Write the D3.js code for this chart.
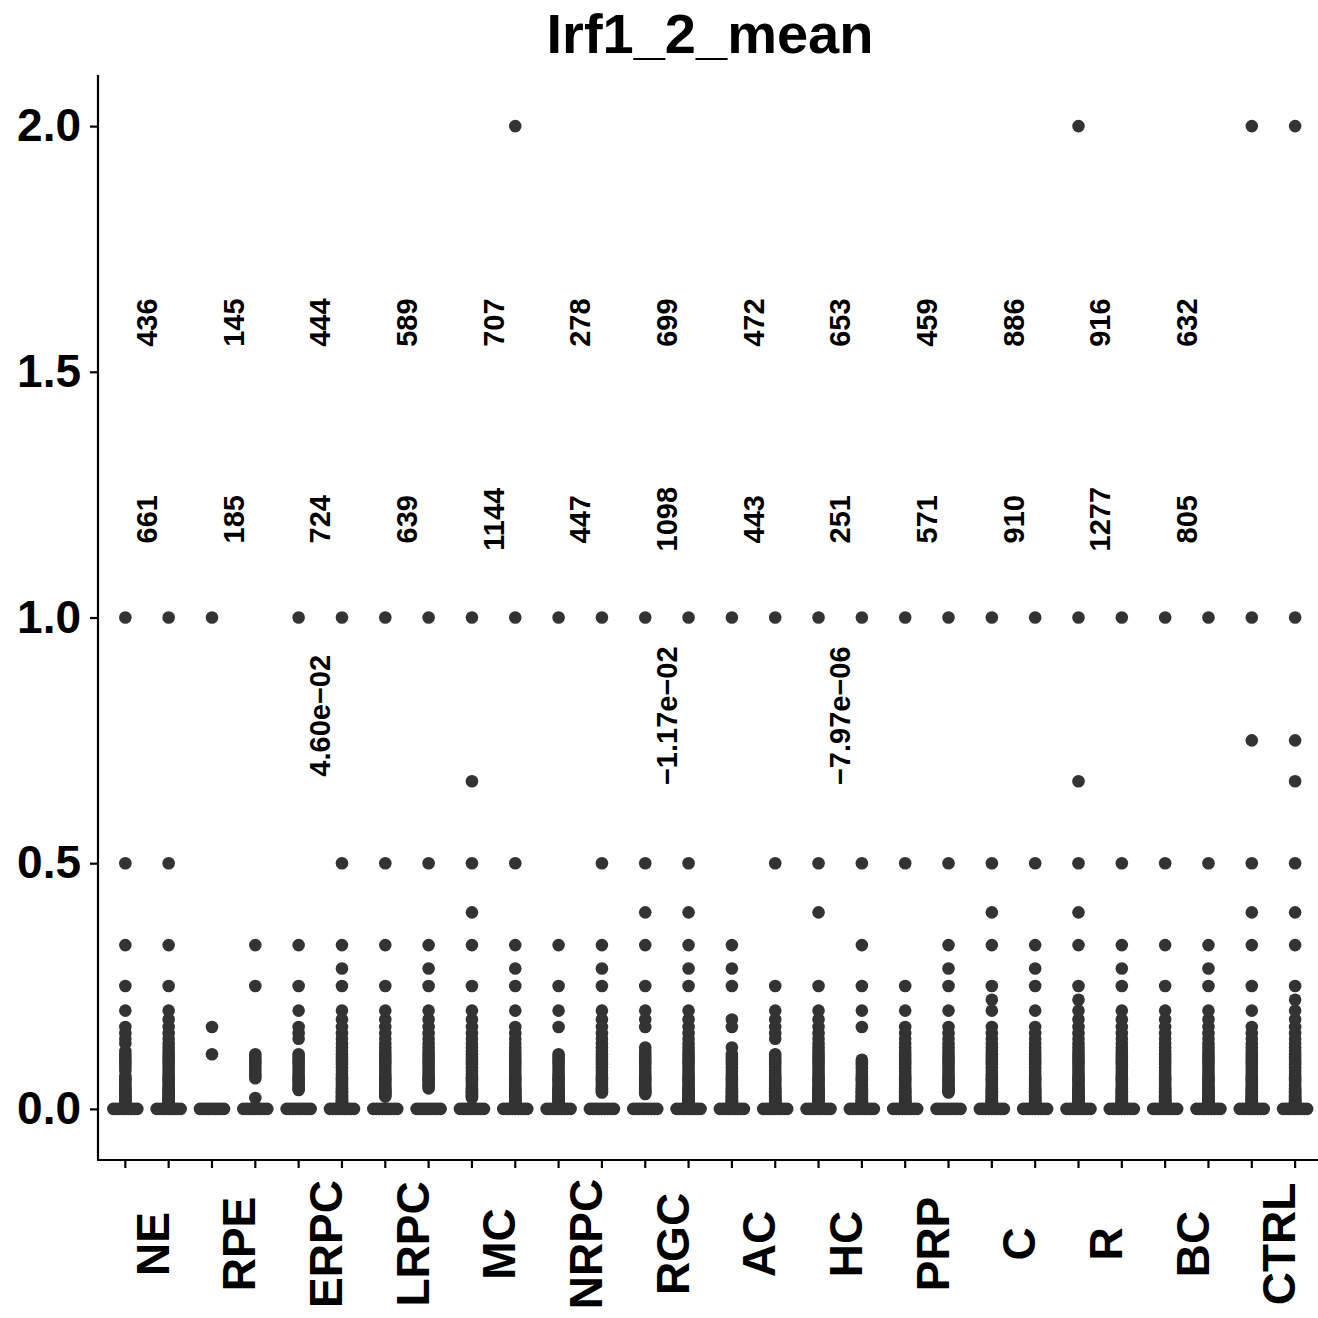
<!DOCTYPE html>
<html>
<head>
<meta charset="utf-8">
<script src="https://cdn.jsdelivr.net/npm/d3@7"></script>
<style>
  html, body { margin: 0; padding: 0; background: #fff; }
  svg text { font-family: "Liberation Sans", Arial, Helvetica, sans-serif; font-weight: bold; fill: #000; }
</style>
</head>
<body>
<svg id="chart" width="1318" height="1318"></svg>
<script>
// ---------------- DATA ----------------
const title = "Irf1_2_mean";
const categories = ["NE", "RPE", "ERPC", "LRPC", "MC", "NRPC", "RGC", "AC", "HC", "PRP", "C", "R", "BC", "CTRL"];
const yTicks = [0.0, 0.5, 1.0, 1.5, 2.0];

// cell counts printed above each category (two rows)
const countsRow1 = [436, 145, 444, 589, 707, 278, 699, 472, 653, 459, 886, 916, 632, null];
const countsRow2 = [661, 185, 724, 639, 1144, 447, 1098, 443, 251, 571, 910, 1277, 805, null];
const countsRow1Y = 1.6;
const countsRow2Y = 1.2;

// statistics printed for some categories
const statCategories = ["ERPC", "RGC", "HC"];
const statLabels = ["4.60e\u221202", "\u22121.17e\u221202", "\u22127.97e\u221206"];
const statY = 0.8;

// observed small mean levels that make up the dense stacks
const levels = [0.2, 0.1818, 0.1667, 0.1538, 0.1429, 0.1333, 0.125, 0.1176, 0.1111, 0.1053, 0.1,
  0.0952, 0.0909, 0.0833, 0.0769, 0.0714, 0.0667, 0.0625, 0.0588, 0.0556, 0.05, 0.0455, 0.0417,
  0.0385, 0.0357, 0.0333, 0.0303, 0.0278, 0.025, 0.0222, 0.02, 0.0179, 0.0159, 0.0139, 0.0119,
  0.01, 0.0083, 0.0067, 0.005, 0];

// isolated points per column (category x subgroup, 2 columns per category)
const isolatedValues = [
  [1, 0.5, 0.3333, 0.25, 0.2],                          // NE a
  [1, 0.5, 0.3333, 0.25],                               // NE b
  [1, 0.1667, 0.1111],                                  // RPE a
  [0.3333, 0.25, 0.0222],                               // RPE b
  [1, 0.3333, 0.25, 0.2],                               // ERPC a
  [1, 0.5, 0.3333, 0.2857, 0.25],                       // ERPC b
  [1, 0.5, 0.3333, 0.25],                               // LRPC a
  [1, 0.5, 0.3333, 0.2857, 0.25],                       // LRPC b
  [1, 0.6667, 0.5, 0.4, 0.3333, 0.25],                  // MC a
  [2, 1, 0.5, 0.3333, 0.2857, 0.25, 0.2],               // MC b
  [1, 0.3333, 0.25, 0.2, 0.1667],                       // NRPC a
  [1, 0.5, 0.3333, 0.2857, 0.25],                       // NRPC b
  [1, 0.5, 0.4, 0.3333, 0.25],                          // RGC a
  [1, 0.5, 0.4, 0.3333, 0.2857, 0.25],                  // RGC b
  [1, 0.3333, 0.2857, 0.25, 0.1818, 0.1667, 0.125],     // AC a
  [1, 0.5, 0.25],                                       // AC b
  [1, 0.5, 0.4, 0.25],                                  // HC a
  [1, 0.5, 0.3333, 0.25, 0.2, 0.1667],                  // HC b
  [1, 0.5, 0.25, 0.2],                                  // PRP a
  [1, 0.5, 0.3333, 0.2857, 0.25, 0.2],                  // PRP b
  [1, 0.5, 0.4, 0.3333, 0.25, 0.2222, 0.2],             // C a
  [1, 0.5, 0.3333, 0.2857, 0.25, 0.2],                  // C b
  [2, 1, 0.6667, 0.5, 0.4, 0.3333, 0.25, 0.2222],       // R a
  [1, 0.5, 0.3333, 0.2857, 0.25],                       // R b
  [1, 0.5, 0.3333, 0.25],                               // BC a
  [1, 0.5, 0.3333, 0.2857, 0.25],                       // BC b
  [2, 1, 0.75, 0.5, 0.4, 0.3333, 0.25, 0.2],            // CTRL a
  [2, 1, 0.75, 0.6667, 0.5, 0.4, 0.3333, 0.25, 0.2222]  // CTRL b
];

// dense stacks per column: [highest, lowest] observed level of each continuous run
const stackRanges = [
  [[0.1667, 0.1333], [0.1176, 0.0769], [0.0667, 0.0119]],
  [[0.2, 0.005]],
  [],
  [[0.1111, 0.0625]],
  [[0.1667, 0.1429], [0.1111, 0.0385]],
  [[0.2, 0.005]],
  [[0.2, 0.025]],
  [[0.2, 0.04]],
  [[0.2, 0.0222]],
  [[0.1667, 0.005]],
  [[0.1111, 0.005]],
  [[0.2, 0.0333]],
  [[0.2, 0.1667], [0.125, 0.0303]],
  [[0.2, 0.005]],
  [[0.1111, 0.005]],
  [[0.2, 0.1429], [0.1111, 0.005]],
  [[0.2, 0.005]],
  [[0.1, 0.005]],
  [[0.1667, 0.005]],
  [[0.1667, 0.0333]],
  [[0.1667, 0.005]],
  [[0.1667, 0.005]],
  [[0.2, 0.005]],
  [[0.2, 0.005]],
  [[0.2, 0.005]],
  [[0.2, 0.005]],
  [[0.1667, 0.005]],
  [[0.2, 0.005]]
];
// every column has many cells at exactly zero
const zeroValue = 0;

// ---------------- CHART ----------------
const svg = d3.select("#chart");
const mLeft = 98, mRight = 1318, mTop = 75, mBottom = 1160;

const x = d3.scaleLinear().domain([0.4345, 14.514]).range([mLeft, mRight]);
const y = d3.scaleLinear().domain([-0.104, 2.104]).range([mBottom, mTop]);
const subOffset = 0.25;
const colX = (ci) => x(Math.floor(ci / 2) + 1 + (ci % 2 === 0 ? -subOffset : subOffset));

// title
svg.append("text").attr("x", 710).attr("y", 53)
  .attr("text-anchor", "middle").attr("font-size", 56).text(title);

// build points
const points = [];
isolatedValues.forEach((vals, ci) => {
  vals.forEach(v => points.push({ci, v, dx: 0}));
  stackRanges[ci].forEach(([hi, lo]) => {
    levels.filter(l => l <= hi + 1e-6 && l >= lo - 1e-6 && l > 0).forEach(l => points.push({ci, v: l, dx: 0}));
  });
  // zero band: many overlapping cells spread horizontally
  d3.range(-12, 12.01, 3).forEach(off => points.push({ci, v: zeroValue, dx: off}));
});

svg.append("g").selectAll("circle").data(points).join("circle")
  .attr("cx", d => colX(d.ci) + d.dx)
  .attr("cy", d => y(d.v))
  .attr("r", 6.3)
  .attr("fill", "#333333");

// axes
const yAxis = d3.axisLeft(y).tickValues(yTicks).tickFormat(d3.format(".1f")).tickSize(8).tickPadding(9);
const gy = svg.append("g").attr("transform", `translate(${mLeft},0)`).call(yAxis);
gy.select(".domain").attr("d", `M0,${mTop}V${mBottom}`).attr("stroke", "#000").attr("stroke-width", 2.2);
gy.selectAll(".tick line").attr("stroke", "#000").attr("stroke-width", 2.2);
gy.selectAll(".tick text").attr("font-size", 46).attr("font-family", "Liberation Sans, Arial, sans-serif")
  .attr("font-weight", "bold").attr("fill", "#000");

const colTicks = d3.range(28).map(ci => colX(ci));
const gx = svg.append("g");
gx.append("line").attr("x1", mLeft - 1).attr("x2", mRight).attr("y1", mBottom).attr("y2", mBottom)
  .attr("stroke", "#000").attr("stroke-width", 2.2);
gx.selectAll("line.tk").data(colTicks).join("line").attr("class", "tk")
  .attr("x1", d => d).attr("x2", d => d).attr("y1", mBottom).attr("y2", mBottom + 8)
  .attr("stroke", "#000").attr("stroke-width", 2.2);

// category labels
svg.append("g").selectAll("text").data(categories).join("text")
  .attr("transform", (d, i) => `translate(${x(i + 1) + 21.7},1244) rotate(-90)`)
  .attr("text-anchor", "middle")
  .attr("font-size", 46)
  .text(d => d);

// counts
function drawRow(arr, yv) {
  svg.append("g").selectAll("text").data(arr.map((c, i) => ({c, i})).filter(d => d.c !== null)).join("text")
    .attr("transform", d => `translate(${x(d.i + 1)},${y(yv)}) rotate(-90)`)
    .attr("text-anchor", "middle").attr("dy", "0.35em")
    .attr("font-size", 29)
    .text(d => d.c);
}
drawRow(countsRow1, countsRow1Y);
drawRow(countsRow2, countsRow2Y);

svg.append("g").selectAll("text").data(statCategories).join("text")
  .attr("transform", (d, i) => `translate(${x(categories.indexOf(d) + 1)},${y(statY)}) rotate(-90)`)
  .attr("text-anchor", "middle").attr("dy", "0.35em")
  .attr("font-size", 29)
  .text((d, i) => statLabels[i]);
</script>
</body>
</html>
